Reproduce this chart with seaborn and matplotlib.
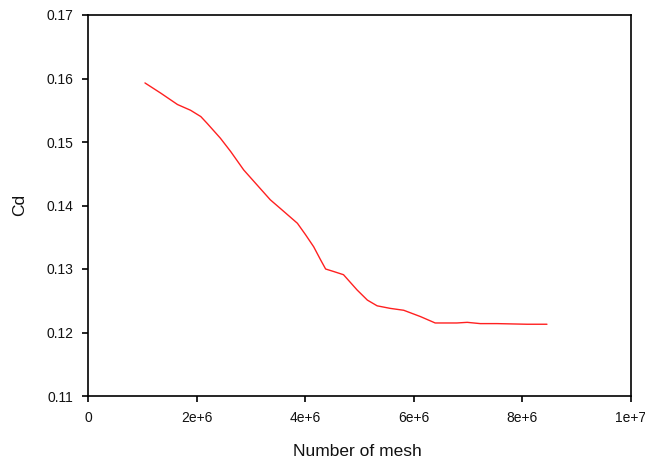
import matplotlib
matplotlib.use("Agg")
import matplotlib.pyplot as plt
import seaborn as sns
import pandas as pd
from matplotlib.ticker import FixedLocator, FixedFormatter

# Drag coefficient versus mesh count (grid independence study)
mesh_count = [1.05e6, 1.34e6, 1.65e6, 1.89e6, 2.08e6, 2.20e6, 2.44e6, 2.63e6,
              2.87e6, 3.12e6, 3.36e6, 3.55e6, 3.86e6, 4.01e6, 4.16e6, 4.29e6,
              4.38e6, 4.53e6, 4.71e6, 4.96e6, 5.15e6, 5.33e6, 5.57e6, 5.82e6,
              6.13e6, 6.40e6, 6.80e6, 6.99e6, 7.23e6, 7.54e6, 8.09e6, 8.46e6]
cd_values = [0.1593, 0.1577, 0.1559, 0.1550, 0.1540, 0.1529, 0.1506, 0.1485,
             0.1456, 0.1432, 0.1409, 0.1395, 0.1372, 0.1354, 0.1335, 0.1314,
             0.1300, 0.1296, 0.1291, 0.1267, 0.1251, 0.1242, 0.1238, 0.1235,
             0.1225, 0.1215, 0.1215, 0.1216, 0.1214, 0.1214, 0.1213, 0.1213]

x_ticks = [0, 2e6, 4e6, 6e6, 8e6, 1e7]
x_tick_labels = ["0", "2e+6", "4e+6", "6e+6", "8e+6", "1e+7"]
y_ticks = [0.11, 0.12, 0.13, 0.14, 0.15, 0.16, 0.17]
y_tick_labels = ["0.11", "0.12", "0.13", "0.14", "0.15", "0.16", "0.17"]

sns.set_theme(style="white")
plt.rcParams["font.family"] = ["Liberation Sans", "DejaVu Sans"]

df = pd.DataFrame({"mesh": mesh_count, "cd": cd_values})

W, H = 645, 459
fig = plt.figure(figsize=(W / 100, H / 100), dpi=100)
ax = fig.add_axes([88 / W, 1 - 396 / H, (630.5 - 88) / W, (396 - 15) / H])

sns.lineplot(data=df, x="mesh", y="cd", ax=ax, color="#ff2020", linewidth=1.0)

ax.set_xlim(0, 1e7)
ax.set_ylim(0.11, 0.17)
ax.xaxis.set_major_locator(FixedLocator(x_ticks))
ax.xaxis.set_major_formatter(FixedFormatter(x_tick_labels))
ax.yaxis.set_major_locator(FixedLocator(y_ticks))
ax.yaxis.set_major_formatter(FixedFormatter(y_tick_labels))

for side in ["left", "bottom", "top", "right"]:
    ax.spines[side].set_color("black")
    ax.spines[side].set_linewidth(1.2)

ax.tick_params(axis="both", which="major", direction="out", length=4.5,
               width=1.2, color="black", labelsize=10, labelcolor="#111111",
               bottom=True, left=True, top=False, right=False)
ax.tick_params(axis="y", pad=6)
ax.tick_params(axis="x", pad=6)

ax.set_xlabel("")
ax.set_ylabel("")
fig.text(357.5 / W, 1 - 456.5 / H, "Number of mesh", fontsize=12.5,
         color="#111111", ha="center", va="baseline")
fig.text(19.5 / W, 1 - 204.5 / H, "Cd", fontsize=12.5, color="#111111",
         ha="center", va="center", rotation=90)

fig.savefig("out.png", dpi=100)
